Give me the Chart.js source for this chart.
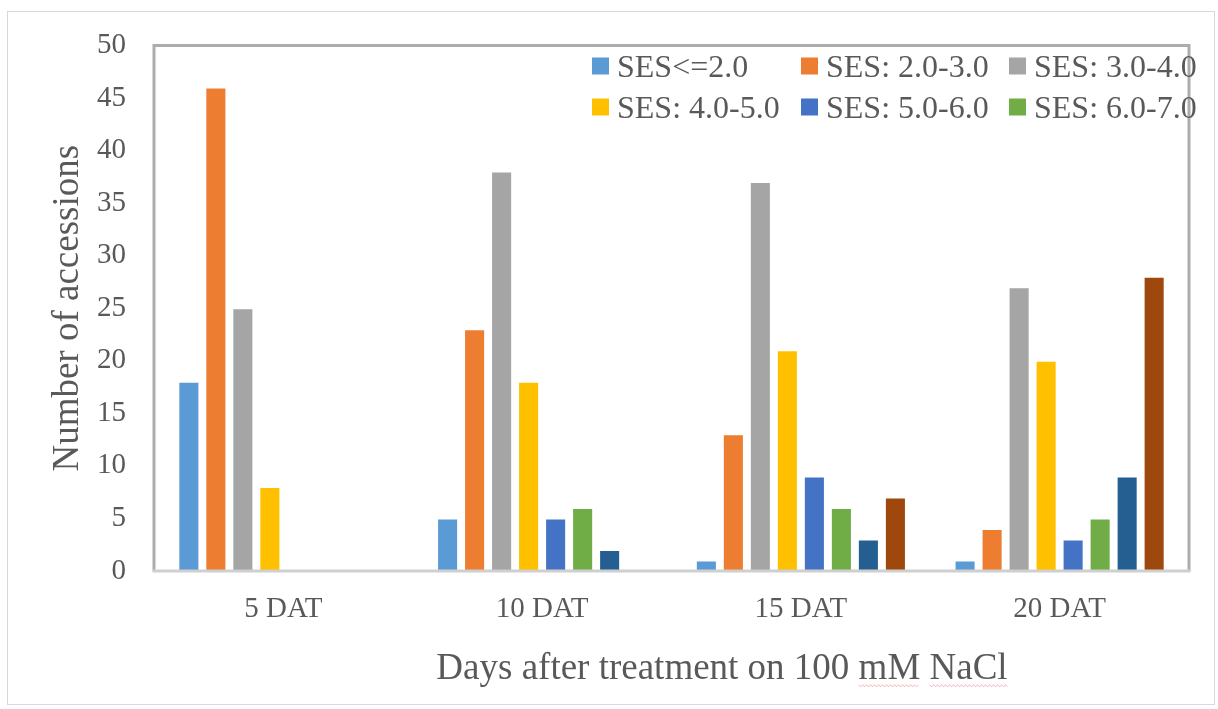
<!DOCTYPE html>
<html>
<head>
<meta charset="utf-8">
<script src="https://cdn.jsdelivr.net/npm/chart.js@4.4.1/dist/chart.umd.min.js"></script>
<style>
  html, body { margin: 0; padding: 0; background: #ffffff; }
  #wrap { position: relative; width: 1218px; height: 709px; }
  #frame { position: absolute; left: 7px; top: 11px; width: 1208px; height: 694px; border: 1px solid #d9d9d9; box-sizing: border-box; pointer-events: none; }
  canvas { position: absolute; left: 0; top: 0; }
</style>
</head>
<body>
<div id="wrap">
  <canvas id="c" width="1218" height="709"></canvas>
  <div id="frame"></div>
</div>
<script>
// Days after treatment (x categories)
const categories = ['5 DAT', '10 DAT', '15 DAT', '20 DAT'];

// SES score classes and bar colours
const seriesLabels = ['SES<=2.0', 'SES: 2.0-3.0', 'SES: 3.0-4.0', 'SES: 4.0-5.0',
                      'SES: 5.0-6.0', 'SES: 6.0-7.0', 'SES: 7.0-8.0', 'SES: 8.0-9.0'];
const seriesColors = ['#5B9BD5', '#ED7D31', '#A5A5A5', '#FFC000',
                      '#4472C4', '#70AD47', '#255E91', '#9E480E'];

// Number of accessions per SES class, one value per category
const ses_le2 = [18, 5, 1, 1];
const ses_2_3 = [46, 23, 13, 4];
const ses_3_4 = [25, 38, 37, 27];
const ses_4_5 = [8, 18, 21, 20];
const ses_5_6 = [0, 5, 9, 3];
const ses_6_7 = [0, 6, 6, 5];
const ses_7_8 = [0, 2, 3, 9];
const ses_8_9 = [0, 0, 7, 28];
const seriesValues = [ses_le2, ses_2_3, ses_3_4, ses_4_5, ses_5_6, ses_6_7, ses_7_8, ses_8_9];

// Legend shows the first six classes only
const legendCount = 6;

const yTicks = { min: 0, max: 50, step: 5 };
const yTitle = 'Number of accessions';
const xTitle = 'Days after treatment on 100 mM NaCl';

const FONT = '"Liberation Serif", "Times New Roman", serif';
const TEXT = '#595959';

// Gray frame around the plot area
const framePlugin = {
  id: 'plotFrame',
  afterDatasetsDraw(chart) {
    const { ctx, chartArea: a } = chart;
    ctx.save();
    ctx.lineWidth = 3;
    ctx.strokeStyle = '#ADADAD';
    ctx.beginPath();
    ctx.moveTo(a.left, a.bottom);
    ctx.lineTo(a.left, a.top);
    ctx.lineTo(a.right, a.top);
    ctx.lineTo(a.right, a.bottom);
    ctx.stroke();
    ctx.strokeStyle = '#CFCFCF';
    ctx.beginPath();
    ctx.moveTo(a.left - 1.5, a.bottom);
    ctx.lineTo(a.right + 1.5, a.bottom);
    ctx.stroke();
    ctx.restore();
  }
};

// Legend in the upper right of the plot, three columns
const legendPlugin = {
  id: 'insetLegend',
  afterDraw(chart) {
    const { ctx } = chart;
    const cols = [592, 801, 1009];
    const rows = [66, 107];
    const box = 17;
    ctx.save();
    ctx.font = '32px ' + FONT;
    ctx.textBaseline = 'alphabetic';
    ctx.textAlign = 'left';
    chart.data.datasets.slice(0, legendCount).forEach((ds, i) => {
      const x = cols[i % 3];
      const y = rows[Math.floor(i / 3)];
      ctx.fillStyle = ds.backgroundColor;
      ctx.fillRect(x, y - box / 2, box, box);
      ctx.fillStyle = TEXT;
      ctx.fillText(ds.label, x + box + 8, y + 11);
    });
    ctx.restore();
  }
};

// Horizontal axis title
const xTitlePlugin = {
  id: 'xAxisTitle',
  afterDraw(chart) {
    const { ctx } = chart;
    ctx.save();
    ctx.font = '37px ' + FONT;
    ctx.fillStyle = TEXT;
    ctx.textAlign = 'center';
    ctx.textBaseline = 'alphabetic';
    const cx = 722, by = 679;
    ctx.fillText(xTitle, cx, by);
    // spell-check squiggle under the unit words
    const full = ctx.measureText(xTitle).width;
    const start = cx - full / 2;
    const pre = ctx.measureText('Days after treatment on 100 ').width;
    const mM = ctx.measureText('mM').width;
    const pre2 = ctx.measureText('Days after treatment on 100 mM ').width;
    const nacl = ctx.measureText('NaCl').width;
    ctx.strokeStyle = 'rgba(235,120,130,0.55)';
    ctx.lineWidth = 1;
    [[start + pre, mM], [start + pre2, nacl]].forEach(([x0, w]) => {
      ctx.beginPath();
      for (let x = 0; x <= w; x += 2) {
        const yy = by + 6 + ((x / 2) % 2 === 0 ? 0 : 1.5);
        if (x === 0) ctx.moveTo(x0 + x, yy); else ctx.lineTo(x0 + x, yy);
      }
      ctx.stroke();
    });
    ctx.restore();
  }
};

new Chart(document.getElementById('c'), {
  type: 'bar',
  data: {
    labels: categories,
    datasets: seriesLabels.map((label, i) => ({
      label,
      data: seriesValues[i],
      backgroundColor: seriesColors[i],
      borderColor: 'rgba(255,255,255,0.6)',
      borderWidth: 1,
      barPercentage: 0.78,
      categoryPercentage: 0.835
    }))
  },
  options: {
    responsive: false,
    animation: false,
    devicePixelRatio: 1,
    layout: { padding: { left: 0, top: 43, right: 29, bottom: 0 } },
    plugins: {
      legend: { display: false },
      tooltip: { enabled: false }
    },
    scales: {
      x: {
        grid: { display: false, drawTicks: false },
        border: { display: false },
        ticks: { color: TEXT, font: { family: FONT, size: 29 }, padding: 21 },
        afterFit(scale) { scale.height = 138; }
      },
      y: {
        min: yTicks.min,
        max: yTicks.max,
        grid: { display: false, drawTicks: false },
        border: { display: false },
        ticks: { stepSize: yTicks.step, color: TEXT, font: { family: FONT, size: 29 }, padding: 28 },
        title: { display: true, text: yTitle, color: TEXT, font: { family: FONT, size: 37 }, padding: { top: 46, bottom: 0 } },
        afterFit(scale) { scale.width = 154; }
      }
    }
  },
  plugins: [framePlugin, legendPlugin, xTitlePlugin]
});
</script>
</body>
</html>
